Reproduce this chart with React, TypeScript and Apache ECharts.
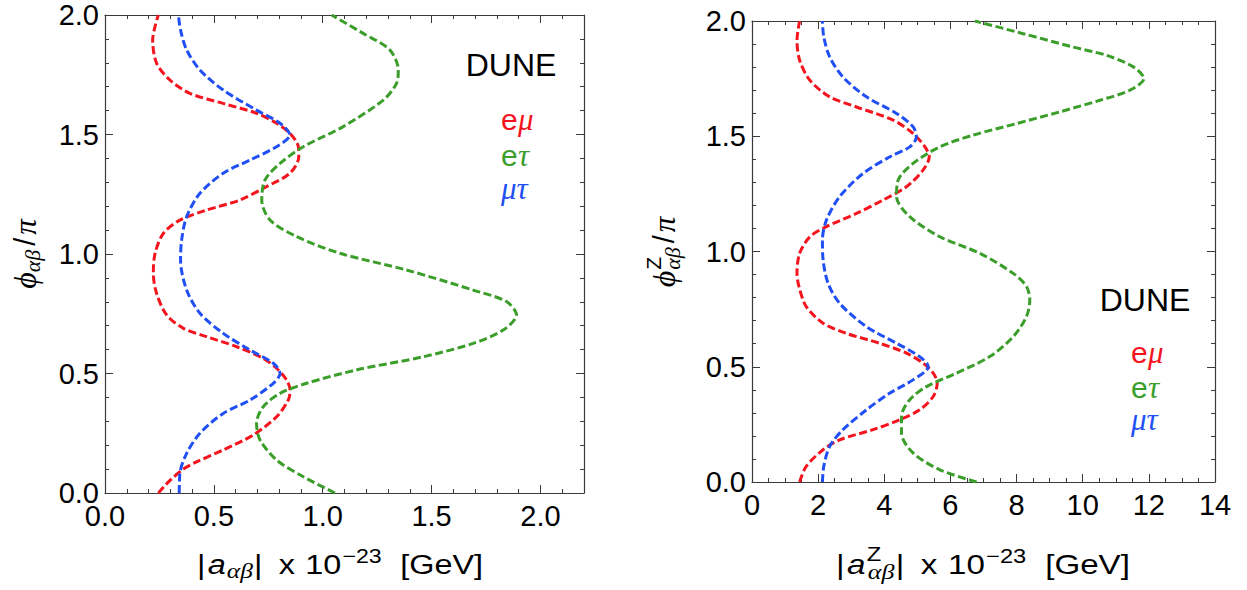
import React, { useEffect, useRef } from 'react';
import * as echarts from 'echarts';

// ---------- data (|a| value, phi/pi) ----------
const leftEmu: number[][] = [
  [0.245, 0.0], [0.30, 0.054], [0.36, 0.10], [0.42, 0.13], [0.543, 0.18], [0.681, 0.243], [0.788, 0.319],
  [0.842, 0.389], [0.850, 0.431], [0.834, 0.473], [0.788, 0.522], [0.727, 0.563], [0.605, 0.612],
  [0.467, 0.654], [0.36, 0.689], [0.283, 0.745], [0.237, 0.835], [0.222, 0.919], [0.23, 1.003],
  [0.268, 1.086], [0.344, 1.142], [0.467, 1.184], [0.62, 1.226], [0.742, 1.282], [0.849, 1.338],
  [0.89, 1.407], [0.888, 1.449], [0.849, 1.505], [0.788, 1.547], [0.696, 1.589], [0.543, 1.63],
  [0.39, 1.672], [0.298, 1.728], [0.237, 1.798], [0.219, 1.895], [0.245, 2.0],
];
const leftEtau: number[][] = [
  [1.056, 0.0], [0.911, 0.068], [0.788, 0.138], [0.712, 0.222], [0.696, 0.292], [0.727, 0.361],
  [0.804, 0.417], [0.926, 0.459], [1.155, 0.515], [1.462, 0.57], [1.691, 0.626], [1.829, 0.682],
  [1.89, 0.745], [1.844, 0.801], [1.691, 0.849], [1.385, 0.933], [1.079, 1.003], [0.88, 1.073],
  [0.758, 1.142], [0.72, 1.226], [0.735, 1.31], [0.804, 1.379], [0.911, 1.449], [1.094, 1.533],
  [1.278, 1.644], [1.339, 1.714], [1.347, 1.77], [1.308, 1.854], [1.186, 1.923], [1.041, 2.0],
];
const leftMutau: number[][] = [
  [0.341, 0.0], [0.344, 0.082], [0.375, 0.166], [0.436, 0.25], [0.543, 0.333], [0.666, 0.389],
  [0.773, 0.459], [0.804, 0.5], [0.773, 0.543], [0.666, 0.598], [0.543, 0.668], [0.436, 0.752],
  [0.375, 0.849], [0.347, 0.975], [0.352, 1.059], [0.375, 1.156], [0.436, 1.254], [0.543, 1.338],
  [0.666, 1.393], [0.788, 1.449], [0.849, 1.498], [0.804, 1.547], [0.696, 1.602], [0.543, 1.686],
  [0.436, 1.77], [0.375, 1.854], [0.347, 1.937], [0.337, 2.0],
];

const rightEmu: number[][] = [
  [1.44, 0.0], [1.64, 0.068], [2.15, 0.14], [2.65, 0.183], [3.66, 0.227], [4.47, 0.27], [5.07, 0.313],
  [5.48, 0.371], [5.6, 0.429], [5.48, 0.472], [5.17, 0.516], [4.67, 0.559], [3.86, 0.602], [2.85, 0.645],
  [2.15, 0.689], [1.64, 0.761], [1.42, 0.848], [1.36, 0.905], [1.44, 0.992], [1.75, 1.064], [2.25, 1.108],
  [3.16, 1.165], [3.96, 1.223], [4.67, 1.281], [5.17, 1.353], [5.36, 1.411], [5.23, 1.454], [4.87, 1.512],
  [4.27, 1.57], [3.16, 1.627], [2.35, 1.671], [1.75, 1.743], [1.44, 1.83], [1.36, 1.916], [1.44, 2.0],
];
const rightEtau: number[][] = [
  [6.79, 0.0], [5.68, 0.053], [4.87, 0.126], [4.52, 0.212], [4.52, 0.284], [4.77, 0.357], [5.28, 0.414],
  [6.18, 0.472], [7.19, 0.544], [7.9, 0.631], [8.3, 0.718], [8.4, 0.79], [8.3, 0.848], [7.9, 0.905],
  [6.89, 0.992], [5.68, 1.064], [4.77, 1.151], [4.37, 1.238], [4.42, 1.31], [4.87, 1.382], [5.68, 1.454],
  [6.69, 1.505], [8.0, 1.555], [9.31, 1.606], [10.52, 1.656], [11.43, 1.70], [11.85, 1.75], [11.53, 1.801],
  [10.72, 1.851], [9.71, 1.887], [8.2, 1.945], [6.74, 2.0],
];
const rightMutau: number[][] = [
  [2.13, 0.0], [2.17, 0.068], [2.35, 0.155], [2.75, 0.227], [3.46, 0.313], [4.17, 0.386], [4.87, 0.443],
  [5.33, 0.501], [5.07, 0.544], [4.37, 0.602], [3.46, 0.674], [2.65, 0.775], [2.3, 0.862], [2.15, 0.963],
  [2.13, 1.05], [2.25, 1.136], [2.65, 1.238], [3.36, 1.339], [4.17, 1.411], [4.77, 1.454], [4.97, 1.497],
  [4.87, 1.541], [4.37, 1.599], [3.46, 1.671], [2.75, 1.757], [2.35, 1.844], [2.17, 1.931], [2.13, 2.0],
];

// axis ranges: [min, max, major interval, minor interval, decimals]
const leftXRange = [0, 2.2, 0.5, 0.1, 1];
const rightXRange = [0, 14, 2, 0.5, 0];
const yRange = [0, 2, 0.5, 0.1, 1];

const seriesNames = ['eμ', 'eτ', 'μτ'];
const seriesColors = ['#f4141e', '#3b9e2a', '#1f4ff5'];

const SANS = 'Liberation Sans, Arial, sans-serif';
const SERIF = 'Liberation Serif, Times New Roman, serif';

type Piece = { t: string; size: number; serif?: boolean; it?: boolean; dy?: number; at?: number; gap?: number; adv?: boolean };

let measureCtx: CanvasRenderingContext2D | null = null;
function measure(p: Piece): number {
  if (!measureCtx) measureCtx = document.createElement('canvas').getContext('2d');
  if (!measureCtx) return p.t.length * p.size * 0.55;
  measureCtx.font = `${p.it ? 'italic ' : ''}${p.size}px ${p.serif ? SERIF : SANS}`;
  return measureCtx.measureText(p.t).width;
}

function textEl(p: Piece, x: number, color: string): any {
  return {
    type: 'text',
    silent: true,
    style: {
      text: p.t,
      x,
      y: p.dy || 0,
      fill: color,
      fontSize: p.size,
      fontFamily: p.serif ? SERIF : SANS,
      fontStyle: p.it ? 'italic' : 'normal',
      align: 'left',
      verticalAlign: 'middle',
      textAlign: 'left',
      textVerticalAlign: 'middle',
    },
  };
}

// explicit offsets from the group origin
function composeAt(pieces: Piece[], x0: number, y0: number, rotation = 0, color = '#000'): any {
  return { type: 'group', x: x0, y: y0, rotation, children: pieces.map((p) => textEl(p, p.at || 0, color)) };
}

// measured flow, centred on (cx, cy), optionally stretched along the text to a target length
function composeFlow(pieces: Piece[], cx: number, cy: number, targetWidth = 0, rotation = 0, color = '#000'): any {
  const w = pieces.map(measure);
  let total = 0;
  pieces.forEach((p, i) => { total += (p.gap || 0) + (p.adv === false ? 0 : w[i]); });
  let x = -total / 2;
  const children: any[] = [];
  pieces.forEach((p, i) => {
    x += p.gap || 0;
    children.push(textEl(p, x, color));
    if (p.adv !== false) x += w[i];
  });
  const s = targetWidth > 0 ? targetWidth / total : 1;
  return { type: 'group', x: cx, y: cy, rotation, scaleX: s, scaleY: 1, children };
}

function isMajor(v: number, major: number) {
  const r = v / major;
  return Math.abs(r - Math.round(r)) < 1e-6;
}

const frameColor = '#3a3a3a';

function makeAxes(dim: 'x' | 'y', grid: number, range: number[]): any[] {
  const [min, max, major, minor, dec] = range;
  const pos = dim === 'x' ? ['bottom', 'top'] : ['left', 'right'];
  const out: any[] = [];
  pos.forEach((p, pi) => {
    [major, minor].forEach((iv, k) => {
      out.push({
        type: 'value',
        gridIndex: grid,
        position: p,
        min,
        max,
        interval: iv,
        axisLine: { show: k === 0, onZero: false, lineStyle: { color: frameColor, width: 1.2 } },
        axisTick: { show: true, inside: true, length: k === 0 ? 8 : 4, lineStyle: { color: frameColor, width: 1 } },
        minorTick: { show: false },
        splitLine: { show: false },
        axisLabel: {
          show: pi === 0 && k === 0,
          color: '#000',
          fontSize: 29,
          fontFamily: SANS,
          margin: dim === 'x' ? 8 : 6,
          showMaxLabel: true,
          formatter: (v: number) => (isMajor(v, major) ? v.toFixed(dec) : ''),
        },
      });
    });
  });
  return out;
}

function makeSeries(data: number[][][], axisIndex: number): any[] {
  return data.map((d, i) => ({
    type: 'line',
    name: seriesNames[i],
    xAxisIndex: axisIndex,
    yAxisIndex: axisIndex,
    data: d,
    smooth: 0.3,
    showSymbol: false,
    symbol: 'none',
    clip: true,
    lineStyle: { color: seriesColors[i], width: 3, type: [8, 3.5] },
  }));
}

export default function App() {
  const ref = useRef<HTMLDivElement>(null);
  useEffect(() => {
    if (!ref.current) return;
    const chart = echarts.init(ref.current, undefined, { renderer: 'svg' });

    const legend = (x0: number, y0: number, dy: number): any[] => [
      composeAt([{ t: 'e', size: 30, at: 0 }, { t: 'μ', size: 31, serif: true, it: true, at: 17 }], x0, y0, 0, seriesColors[0]),
      composeAt([{ t: 'e', size: 30, at: 0 }, { t: 'τ', size: 31, serif: true, it: true, at: 17 }], x0, y0 + dy, 0, seriesColors[1]),
      composeAt([{ t: 'μτ', size: 31, serif: true, it: true, at: 0 }], x0, y0 + 2 * dy - 3, 0, seriesColors[2]),
    ];

    const dune = (x: number, y: number) => ({
      type: 'text', silent: true,
      style: { text: 'DUNE', x, y, fill: '#000', fontSize: 32, fontFamily: SANS, align: 'center', verticalAlign: 'middle', textAlign: 'center', textVerticalAlign: 'middle' },
    });

    const graphic: any[] = [
      dune(511, 65),
      dune(1145, 300),
      ...legend(501, 119, 36),
      ...legend(1131, 352, 35),
      // x axis names
      composeFlow([
        { t: '|', size: 28 }, { t: 'a', size: 28, it: true, gap: 2 },
        { t: 'αβ', size: 22, serif: true, it: true, dy: 7, gap: 1 },
        { t: '|', size: 28, gap: 1 }, { t: 'x', size: 28, gap: 14 }, { t: '10', size: 28, gap: 9 },
        { t: '−23', size: 20, dy: -8, gap: 1 },
        { t: '[GeV]', size: 28, gap: 16 },
      ], 340, 564, 286),
      composeFlow([
        { t: '|', size: 28 }, { t: 'a', size: 28, it: true, gap: 2 },
        { t: 'Z', size: 20, dy: -10, gap: 1, adv: false },
        { t: 'αβ', size: 22, serif: true, it: true, dy: 8, gap: 1 },
        { t: '|', size: 28, gap: 1 }, { t: 'x', size: 28, gap: 14 }, { t: '10', size: 28, gap: 9 },
        { t: '−23', size: 20, dy: -8, gap: 1 },
        { t: '[GeV]', size: 28, gap: 16 },
      ], 983, 564, 294),
      // y axis names (rotated, reading upward)
      composeFlow([
        { t: 'ϕ', size: 32, serif: true, it: true },
        { t: 'αβ', size: 22, serif: true, it: true, dy: 7, gap: 0 },
        { t: '/', size: 29, gap: 4 },
        { t: 'π', size: 31, serif: true, it: true, gap: 3 },
      ], 25, 254, 0, Math.PI / 2),
      composeFlow([
        { t: 'ϕ', size: 32, serif: true, it: true },
        { t: 'Z', size: 21, dy: -11, gap: 1, adv: false },
        { t: 'αβ', size: 22, serif: true, it: true, dy: 8, gap: 0 },
        { t: '/', size: 29, gap: 4 },
        { t: 'π', size: 31, serif: true, it: true, gap: 3 },
      ], 664, 252, 0, Math.PI / 2),
    ];

    chart.setOption({
      animation: false,
      backgroundColor: '#ffffff',
      grid: [
        { left: 105, top: 15, width: 479, height: 478, containLabel: false },
        { left: 752, top: 21, width: 463, height: 461, containLabel: false },
      ],
      xAxis: [...makeAxes('x', 0, leftXRange), ...makeAxes('x', 1, rightXRange)],
      yAxis: [...makeAxes('y', 0, yRange), ...makeAxes('y', 1, yRange)],
      series: [
        ...makeSeries([leftEmu, leftEtau, leftMutau], 0),
        ...makeSeries([rightEmu, rightEtau, rightMutau], 4),
      ],
      graphic,
    });
    return () => chart.dispose();
  }, []);
  return (
    <div
      ref={ref}
      style={{ position: 'absolute', left: 0, top: 0, width: 1247, height: 590, background: '#fff' }}
    />
  );
}
